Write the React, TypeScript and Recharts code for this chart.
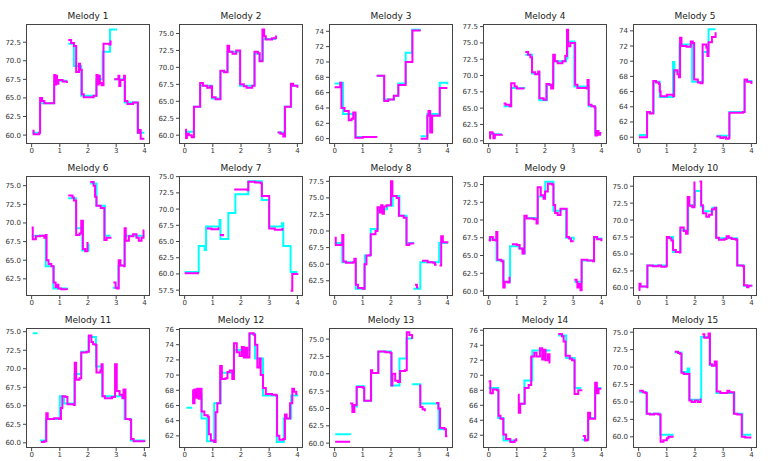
import { LineChart, Line, XAxis, YAxis } from "recharts";

type Pt = [number, number | null];

// cyan = reference pitch, magenta = sung pitch; null = gap
const m1c: Pt[] = [[0.02,60.3],[0.3,64.3],[0.8,67.3],[1.26,67.3],[1.27,null],[1.3,72.3],[1.5,69.3],[1.76,65.3],[2.3,67.5],[2.52,71.2],[2.78,74.2],[3.03,74.2],[3.04,null],[2.93,67.5],[3.3,64.4],[3.76,60.3],[4.0,60.3]];
const m1m: Pt[] = [[0.03,60.6],[0.07,60.1],[0.27,60.3],[0.3,65.0],[0.37,64.6],[0.45,64.3],[0.78,64.3],[0.8,68.1],[0.84,66.8],[0.87,68.0],[0.9,66.9],[0.95,67.4],[1.1,67.2],[1.25,67.0],[1.26,null],[1.3,72.8],[1.4,72.4],[1.5,72.0],[1.58,68.5],[1.68,69.6],[1.72,68.8],[1.78,65.5],[1.85,65.1],[2.2,65.3],[2.3,68.1],[2.34,66.8],[2.38,68.0],[2.42,67.0],[2.48,66.7],[2.55,72.3],[2.75,72.2],[2.8,72.6],[2.84,72.6],[2.85,null],[2.93,67.5],[3.05,67.5],[3.08,68.0],[3.11,66.6],[3.15,67.4],[3.28,68.0],[3.31,64.6],[3.4,64.2],[3.6,64.4],[3.74,64.4],[3.77,60.3],[3.83,60.7],[3.87,59.5],[4.0,59.5]];

const m2c: Pt[] = [[0.02,60.5],[0.33,64.2],[0.55,67.3],[0.97,65.4],[1.27,69.4],[1.52,72.3],[1.96,67.3],[2.48,72.0],[2.66,71.0],[2.78,74.2],[3.24,74.2],[3.25,null],[3.3,60.4],[3.55,64.2],[3.78,67.3],[4.0,67.1]];
const m2m: Pt[] = [[0.02,60.8],[0.05,59.6],[0.08,60.2],[0.15,60.0],[0.25,59.7],[0.33,64.2],[0.55,67.7],[0.65,67.3],[0.8,67.0],[0.9,67.2],[0.97,65.6],[1.1,65.3],[1.27,69.5],[1.4,69.3],[1.52,73.2],[1.58,72.3],[1.7,72.0],[1.83,72.5],[1.97,67.5],[2.1,67.2],[2.2,67.0],[2.4,67.3],[2.48,72.3],[2.6,72.1],[2.66,70.9],[2.76,75.6],[2.82,74.6],[2.88,74.1],[3.1,74.3],[3.24,74.7],[3.25,null],[3.3,60.4],[3.4,60.2],[3.5,59.8],[3.56,64.2],[3.77,67.6],[3.85,67.3],[4.0,67.0]];

const m3c: Pt[] = [[0.0,67.2],[0.2,67.3],[0.3,63.2],[0.74,60.2],[1.48,60.2],[1.49,null],[1.49,68.2],[1.75,65.1],[2.1,65.6],[2.26,67.2],[2.52,71.2],[2.75,74.2],[3.02,74.0],[3.03,null],[3.05,60.3],[3.29,63.2],[3.73,67.3],[4.0,67.1]];
const m3m: Pt[] = [[0.0,66.7],[0.2,67.3],[0.24,64.0],[0.35,63.6],[0.5,62.4],[0.6,62.6],[0.66,63.4],[0.74,60.1],[1.0,60.2],[1.48,60.1],[1.49,null],[1.49,68.2],[1.76,64.9],[1.9,65.1],[2.1,65.6],[2.26,67.0],[2.52,70.0],[2.76,74.1],[3.02,74.0],[3.03,null],[3.05,60.0],[3.29,63.0],[3.33,63.6],[3.39,60.8],[3.46,63.0],[3.73,66.6],[4.0,66.6]];

const m4c: Pt[] = [[0.03,61.0],[0.47,61.0],[0.48,null],[0.53,65.3],[0.8,68.1],[1.27,68.0],[1.28,null],[1.3,73.2],[1.54,70.3],[1.8,66.2],[2.07,68.6],[2.3,72.2],[2.75,72.6],[2.8,75.2],[3.04,68.3],[3.55,65.3],[3.78,61.1],[4.0,61.1]];
const m4m: Pt[] = [[0.02,60.4],[0.05,61.3],[0.13,61.1],[0.17,60.4],[0.22,60.9],[0.47,61.0],[0.48,null],[0.53,65.7],[0.6,65.5],[0.75,65.3],[0.8,68.8],[0.92,68.3],[1.0,68.0],[1.27,68.0],[1.28,null],[1.3,73.6],[1.4,73.2],[1.48,72.8],[1.54,70.5],[1.65,70.2],[1.76,70.6],[1.8,66.5],[1.95,66.3],[2.05,68.7],[2.15,68.6],[2.22,68.0],[2.29,73.2],[2.35,72.2],[2.45,71.9],[2.62,72.2],[2.72,73.0],[2.78,77.0],[2.82,74.5],[2.9,75.0],[3.03,75.0],[3.07,68.6],[3.15,68.1],[3.48,68.0],[3.51,69.3],[3.55,65.5],[3.65,65.3],[3.76,65.1],[3.79,60.8],[3.84,61.5],[3.9,60.9],[3.95,61.2],[4.0,61.2]];

const m5c: Pt[] = [[0.01,60.3],[0.3,63.2],[0.53,67.3],[0.75,65.3],[1.22,69.9],[1.27,68.6],[1.45,72.2],[1.9,67.3],[2.28,71.2],[2.48,74.2],[2.73,74.2],[2.74,null],[2.76,60.2],[3.22,63.3],[3.76,67.4],[4.0,67.1]];
const m5m: Pt[] = [[0.01,60.0],[0.29,60.0],[0.3,63.3],[0.4,63.1],[0.52,67.4],[0.62,67.2],[0.72,67.0],[0.75,66.0],[0.78,65.4],[1.0,65.6],[1.22,65.4],[1.26,68.8],[1.38,68.3],[1.43,67.9],[1.47,73.1],[1.52,72.0],[1.7,71.9],[1.85,72.6],[1.92,72.4],[1.97,67.6],[2.1,67.2],[2.2,67.1],[2.27,72.2],[2.4,71.8],[2.44,70.7],[2.48,72.5],[2.6,73.2],[2.73,73.8],[2.74,null],[2.76,60.1],[2.9,59.9],[3.0,60.0],[3.1,59.8],[3.2,59.9],[3.22,63.2],[3.5,63.2],[3.7,63.3],[3.76,67.6],[3.85,67.3],[4.0,67.0]];

const m6c: Pt[] = [[0.0,68.3],[0.5,64.2],[0.77,61.2],[1.25,61.0],[1.26,null],[1.3,73.3],[1.57,69.3],[1.8,66.3],[2.02,67.2],[2.03,null],[2.08,75.3],[2.3,72.3],[2.6,68.3],[2.8,68.3],[2.81,null],[2.88,61.3],[3.08,64.3],[3.3,68.3],[4.0,68.3]];
const m6m: Pt[] = [[0.0,69.4],[0.04,67.8],[0.15,68.2],[0.3,68.3],[0.45,68.0],[0.5,68.4],[0.53,65.0],[0.6,64.5],[0.7,64.2],[0.78,62.0],[0.85,61.4],[0.9,61.7],[0.95,61.2],[1.05,61.1],[1.25,61.0],[1.26,null],[1.3,73.7],[1.45,73.4],[1.5,73.0],[1.58,68.4],[1.7,68.6],[1.76,70.3],[1.82,66.5],[1.9,66.2],[1.98,67.3],[2.02,67.3],[2.03,null],[2.08,75.5],[2.2,75.0],[2.25,73.5],[2.3,72.3],[2.45,72.0],[2.58,67.7],[2.66,68.0],[2.8,68.1],[2.81,null],[2.9,62.0],[2.98,61.3],[3.03,61.2],[3.09,65.0],[3.15,64.3],[3.28,64.2],[3.3,69.3],[3.34,67.6],[3.45,68.2],[3.6,68.5],[3.72,68.0],[3.8,67.6],[3.9,68.0],[3.97,69.0],[4.0,69.0]];

const m7c: Pt[] = [[0.0,60.3],[0.5,64.3],[0.71,63.7],[0.76,67.3],[1.24,68.3],[1.27,65.4],[1.55,69.4],[1.8,72.3],[2.26,74.3],[2.74,71.4],[3.0,67.3],[3.45,67.8],[3.5,64.3],[3.76,60.3],[4.0,60.3]];
const m7m: Pt[] = [[0.0,60.1],[0.47,60.3],[0.48,null],[0.78,67.0],[0.95,66.9],[1.2,67.2],[1.22,null],[1.25,66.0],[1.36,65.8],[1.37,null],[1.76,73.0],[2.0,73.0],[2.24,72.9],[2.26,74.2],[2.5,74.1],[2.7,74.0],[2.74,72.0],[2.98,72.0],[3.0,67.0],[3.2,66.8],[3.47,67.1],[3.48,null],[3.76,57.4],[3.82,60.0],[4.0,60.1]];

const m8c: Pt[] = [[0.0,68.2],[0.27,65.3],[0.75,61.3],[1.07,66.3],[1.28,70.3],[1.54,73.3],[1.86,73.8],[2.06,75.3],[2.3,72.3],[2.55,68.2],[2.79,68.1],[2.8,null],[2.79,61.3],[3.04,65.3],[3.71,68.2],[4.0,68.2]];
const m8m: Pt[] = [[0.0,69.0],[0.04,67.9],[0.25,68.0],[0.27,69.4],[0.31,65.4],[0.4,65.2],[0.65,65.3],[0.7,65.8],[0.75,61.9],[0.83,61.4],[1.0,61.3],[1.06,65.0],[1.13,66.3],[1.25,66.4],[1.28,69.5],[1.45,70.0],[1.52,73.6],[1.6,72.8],[1.65,73.9],[1.7,72.6],[1.75,73.7],[1.84,73.9],[2.0,77.5],[2.05,75.3],[2.2,75.0],[2.28,72.3],[2.45,72.0],[2.55,67.9],[2.65,68.1],[2.79,68.0],[2.8,null],[2.85,61.9],[2.92,61.5],[2.97,61.5],[2.98,null],[3.1,65.5],[3.3,65.3],[3.5,65.2],[3.56,64.9],[3.62,64.9],[3.63,null],[3.72,64.8],[3.78,69.2],[3.84,68.3],[4.0,68.1]];

const m9c: Pt[] = [[0.0,67.3],[0.28,64.3],[0.53,61.3],[0.76,66.3],[1.07,66.0],[1.22,65.3],[1.28,70.3],[1.75,73.3],[2.01,75.4],[2.26,75.4],[2.3,71.3],[2.56,71.5],[2.75,67.5],[3.02,67.1],[3.03,null],[3.04,61.3],[3.3,64.3],[3.74,67.4],[4.0,67.1]];
const m9m: Pt[] = [[0.0,67.1],[0.05,67.6],[0.15,67.2],[0.25,67.1],[0.27,68.3],[0.31,64.4],[0.45,64.2],[0.52,60.5],[0.57,61.3],[0.68,61.2],[0.74,62.0],[0.76,null],[0.83,66.6],[1.0,66.5],[1.1,66.0],[1.2,65.3],[1.27,70.6],[1.35,70.2],[1.6,70.1],[1.7,69.5],[1.74,74.6],[1.85,73.5],[1.95,73.0],[2.0,74.0],[2.1,75.1],[2.25,75.0],[2.3,72.1],[2.36,71.0],[2.45,70.7],[2.55,71.6],[2.7,71.6],[2.77,67.6],[2.85,67.4],[2.92,67.0],[3.02,67.0],[3.03,null],[3.04,61.6],[3.12,61.3],[3.15,60.5],[3.19,61.0],[3.26,60.1],[3.3,64.4],[3.5,64.3],[3.7,64.2],[3.74,67.6],[3.85,67.3],[4.0,67.0]];

const m10c: Pt[] = [[0.0,60.2],[0.31,63.3],[1.0,67.5],[1.22,65.3],[1.48,68.5],[1.76,72.2],[2.0,74.3],[2.22,72.0],[2.3,71.3],[2.62,71.8],[2.76,67.3],[3.5,63.3],[3.74,60.3],[4.0,60.2]];
const m10m: Pt[] = [[0.0,59.7],[0.03,60.6],[0.07,60.2],[0.3,60.1],[0.31,63.3],[0.5,63.2],[0.7,63.3],[0.8,63.1],[0.96,63.2],[1.0,67.5],[1.08,67.3],[1.16,67.0],[1.22,65.6],[1.32,65.3],[1.46,65.2],[1.48,68.9],[1.6,68.4],[1.68,68.0],[1.74,73.4],[1.8,72.1],[1.9,71.9],[1.98,75.7],[2.0,null],[2.16,75.7],[2.22,72.2],[2.28,71.0],[2.4,70.5],[2.5,70.8],[2.6,71.6],[2.7,71.8],[2.75,67.4],[2.85,67.1],[3.05,67.2],[3.12,67.6],[3.2,67.4],[3.3,67.2],[3.45,67.1],[3.5,63.3],[3.7,63.2],[3.74,60.4],[3.85,60.1],[3.9,60.3],[4.0,60.2]];

const m11c: Pt[] = [[0.04,74.8],[0.21,74.8],[0.22,null],[0.29,60.3],[0.5,63.2],[1.0,66.3],[1.15,65.3],[1.52,69.3],[1.76,72.3],[2.02,74.3],[2.28,70.3],[2.5,66.3],[3.3,63.2],[3.52,60.3],[4.0,60.2]];
const m11m: Pt[] = [[0.33,60.1],[0.45,60.2],[0.52,64.0],[0.57,63.2],[0.8,63.3],[0.97,63.2],[1.04,64.7],[1.09,66.3],[1.2,66.2],[1.27,65.2],[1.5,65.1],[1.53,70.8],[1.58,68.5],[1.7,68.7],[1.76,72.2],[1.95,72.3],[2.03,74.5],[2.12,73.6],[2.18,73.3],[2.27,73.2],[2.3,69.5],[2.44,69.8],[2.48,70.6],[2.52,66.3],[2.6,66.0],[2.85,66.2],[2.96,70.6],[3.02,67.0],[3.12,66.5],[3.22,66.0],[3.26,67.2],[3.33,63.2],[3.48,63.1],[3.53,60.5],[3.62,60.2],[4.0,60.1]];

const m12c: Pt[] = [[0.06,65.7],[0.27,65.7],[0.28,null],[0.29,67.4],[0.6,64.3],[0.8,61.3],[1.05,66.3],[1.28,70.3],[1.75,73.3],[2.2,73.3],[2.3,75.4],[2.5,72.2],[2.78,67.3],[3.27,61.2],[3.52,64.3],[3.78,67.3],[4.0,67.2]];
const m12m: Pt[] = [[0.27,68.0],[0.3,66.3],[0.35,68.1],[0.4,67.0],[0.45,68.2],[0.5,66.9],[0.55,68.2],[0.6,65.2],[0.7,64.7],[0.82,64.5],[0.86,62.2],[0.93,61.4],[1.05,61.2],[1.1,65.1],[1.16,66.3],[1.26,71.2],[1.32,69.5],[1.45,69.6],[1.52,70.4],[1.6,70.6],[1.69,69.5],[1.75,74.2],[1.85,73.0],[1.95,72.5],[2.03,73.7],[2.1,72.3],[2.17,73.6],[2.22,72.3],[2.3,75.5],[2.45,75.3],[2.5,74.0],[2.58,71.0],[2.66,72.2],[2.7,70.0],[2.78,68.3],[2.88,67.5],[3.1,67.4],[3.25,67.3],[3.28,62.0],[3.36,61.5],[3.5,61.6],[3.56,64.8],[3.62,64.3],[3.74,66.3],[3.82,68.2],[3.88,67.8],[3.96,67.5],[4.0,67.5]];

const m13c: Pt[] = [[0.02,61.3],[0.55,61.2],[0.56,null],[0.57,65.3],[0.79,68.2],[1.05,66.1],[1.3,70.1],[1.55,73.2],[2.0,68.3],[2.3,72.2],[2.55,75.1],[2.75,75.0],[2.76,null],[2.75,68.5],[3.04,65.7],[3.69,62.0],[3.95,62.0]];
const m13m: Pt[] = [[0.02,60.2],[0.55,60.2],[0.56,null],[0.55,65.7],[0.63,64.5],[0.7,65.5],[0.78,68.1],[1.0,68.0],[1.05,66.1],[1.27,66.1],[1.29,70.5],[1.33,70.1],[1.55,73.2],[1.8,73.1],[1.98,73.0],[2.02,68.3],[2.05,70.0],[2.15,69.0],[2.25,68.8],[2.32,70.4],[2.5,70.5],[2.56,76.0],[2.65,75.6],[2.75,75.0],[2.76,null],[3.0,68.3],[3.04,65.2],[3.12,64.9],[3.2,64.6],[3.21,null],[3.6,65.8],[3.68,65.0],[3.74,62.2],[3.9,62.0],[3.95,61.0],[4.0,61.0]];

const m14c: Pt[] = [[0.0,68.3],[0.34,64.3],[0.53,61.3],[0.95,61.3],[0.96,null],[1.05,66.2],[1.27,69.3],[1.55,73.3],[2.19,73.3],[2.2,null],[2.47,75.3],[2.75,72.3],[3.05,68.3],[3.29,68.3],[3.3,null],[3.32,61.4],[3.54,64.3],[3.78,68.3],[4.0,68.3]];
const m14m: Pt[] = [[0.0,69.2],[0.06,67.6],[0.15,68.1],[0.3,68.0],[0.35,64.6],[0.42,64.2],[0.52,62.1],[0.62,61.5],[0.77,61.1],[0.92,61.3],[0.98,61.6],[0.99,null],[1.04,67.4],[1.07,65.0],[1.12,66.2],[1.25,66.2],[1.28,68.3],[1.42,68.7],[1.51,72.5],[1.62,73.0],[1.7,72.5],[1.82,73.6],[1.9,72.1],[1.96,73.4],[2.02,72.0],[2.1,72.8],[2.16,71.7],[2.19,71.7],[2.2,null],[2.47,75.5],[2.6,75.2],[2.66,74.5],[2.73,72.6],[2.88,72.2],[2.96,72.0],[3.05,67.5],[3.18,68.0],[3.29,68.1],[3.3,null],[3.34,61.9],[3.42,61.3],[3.49,61.4],[3.53,65.0],[3.6,64.2],[3.74,64.2],[3.78,69.0],[3.84,67.6],[3.9,68.2],[4.0,68.2]];

const m15c: Pt[] = [[0.02,66.4],[0.28,63.3],[0.76,60.3],[1.24,60.3],[1.25,null],[1.28,72.1],[1.52,69.3],[1.74,69.8],[1.8,65.3],[2.22,74.3],[2.52,70.3],[2.76,66.3],[3.4,63.3],[3.68,60.3],[4.0,60.3]];
const m15m: Pt[] = [[0.02,66.6],[0.15,66.4],[0.24,66.3],[0.29,63.3],[0.4,63.2],[0.55,63.3],[0.7,63.2],[0.78,59.3],[0.88,59.5],[1.0,59.8],[1.06,60.0],[1.24,60.0],[1.25,null],[1.28,72.2],[1.4,72.0],[1.47,71.9],[1.52,69.2],[1.6,69.0],[1.75,69.0],[1.8,65.2],[1.88,65.0],[2.0,65.2],[2.1,65.0],[2.2,65.5],[2.22,null],[2.26,74.7],[2.33,74.2],[2.48,74.8],[2.53,70.4],[2.6,70.2],[2.7,70.8],[2.77,66.5],[2.9,66.3],[3.15,66.6],[3.22,66.4],[3.38,63.3],[3.5,63.2],[3.66,60.0],[3.78,59.9],[4.0,59.9]];

const xTicks = [0, 1, 2, 3, 4];
const ticksA = [60, 62.5, 65, 67.5, 70, 72.5];
const ticksB = [60, 62.5, 65, 67.5, 70, 72.5, 75];
const ticksC = [60, 62, 64, 66, 68, 70, 72, 74];
const ticksD = [60, 62.5, 65, 67.5, 70, 72.5, 75, 77.5];
const ticksE = [62.5, 65, 67.5, 70, 72.5, 75];
const ticksF = [57.5, 60, 62.5, 65, 67.5, 70, 72.5, 75];
const ticksG = [62.5, 65, 67.5, 70, 72.5, 75, 77.5];
const ticksH = [62, 64, 66, 68, 70, 72, 74, 76];

const cyanSeries = [m1c, m2c, m3c, m4c, m5c, m6c, m7c, m8c, m9c, m10c, m11c, m12c, m13c, m14c, m15c];
const magentaSeries = [m1m, m2m, m3m, m4m, m5m, m6m, m7m, m8m, m9m, m10m, m11m, m12m, m13m, m14m, m15m];
const yDomains: [number, number][] = [
  [58.8, 74.95], [58.7, 76.4], [59.3, 74.95], [59.5, 77.9], [59.1, 74.9],
  [60.2, 76.3], [56.6, 75.1], [60.2, 78.3], [59.3, 76.2], [58.8, 76.5],
  [59.3, 75.5], [60.4, 76.2], [59.3, 76.6], [60.3, 76.3], [58.4, 75.6],
];
const yTicks = [ticksA, ticksB, ticksC, ticksD, ticksC, ticksE, ticksF, ticksG, ticksB, ticksB, ticksB, ticksH, ticksB, ticksH, ticksB];

const colLeft = [26, 179, 329, 483, 633];
const rowTop = [24, 176, 328];
const BOX_W = 124;
const BOX_H = 120;
const Y_W = 26;
const X_H = 14;
const PAD_T = 6;
const FONT = "'DejaVu Sans', sans-serif";

const toRows = (pts: Pt[]) => pts.map(([x, y]) => ({ x, y }));

function Panel({ i }: { i: number }) {
  const left = colLeft[i % 5];
  const top = rowTop[Math.floor(i / 5)];
  const ticks = yTicks[i];
  const half = ticks[1] - ticks[0] === 2.5;
  return (
    <>
      <div
        style={{
          position: "absolute",
          left: left,
          top: top - 14,
          width: BOX_W,
          height: 12,
          lineHeight: "12px",
          textAlign: "center",
          fontFamily: FONT,
          fontSize: 9,
          color: "#222",
        }}
      >
        Melody {i + 1}
      </div>
      <div style={{ position: "absolute", left: left - Y_W, top: top - PAD_T }}>
        <LineChart
          width={Y_W + BOX_W + 1}
          height={PAD_T + BOX_H + X_H}
          margin={{ top: PAD_T, right: 1, bottom: 0, left: 0 }}
        >
          <XAxis
            type="number"
            dataKey="x"
            domain={[-0.2, 4.2]}
            ticks={xTicks}
            axisLine={false}
            tickSize={3}
            tickMargin={1}
            height={X_H}
            tick={{ fontSize: 7, fill: "#333", fontFamily: FONT }}
            tickLine={{ stroke: "#444" }}
            allowDataOverflow
          />
          <YAxis
            type="number"
            domain={yDomains[i]}
            ticks={ticks}
            axisLine={false}
            tickSize={3}
            tickMargin={2}
            width={Y_W}
            interval={0}
            tick={{ fontSize: 7, fill: "#333", fontFamily: FONT }}
            tickLine={{ stroke: "#444" }}
            tickFormatter={(v: number) => (half ? v.toFixed(1) : String(v))}
            allowDataOverflow
          />
          <Line
            data={toRows(cyanSeries[i])}
            dataKey="y"
            type="stepAfter"
            stroke="#00ffff"
            strokeWidth={2}
            dot={false}
            isAnimationActive={false}
          />
          <Line
            data={toRows(magentaSeries[i])}
            dataKey="y"
            type="stepAfter"
            stroke="#ff00ff"
            strokeWidth={2}
            dot={false}
            isAnimationActive={false}
          />
        </LineChart>
      </div>
      <div
        style={{
          position: "absolute",
          left: left,
          top: top,
          width: BOX_W,
          height: BOX_H,
          border: "1px solid #444",
          boxSizing: "border-box",
          pointerEvents: "none",
        }}
      />
    </>
  );
}

export default function App() {
  return (
    <div
      style={{
        position: "absolute",
        left: 0,
        top: 0,
        width: 768,
        height: 461,
        background: "#fff",
        overflow: "hidden",
      }}
    >
      {cyanSeries.map((_, i) => (
        <Panel key={i} i={i} />
      ))}
    </div>
  );
}
